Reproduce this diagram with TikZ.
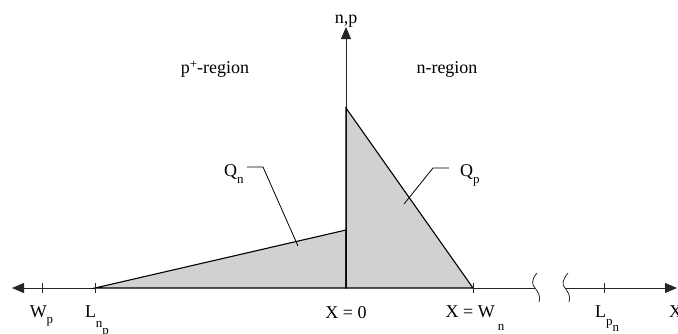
\documentclass[tikz,border=0pt]{standalone}
\usepackage{fontspec}
\setmainfont{Liberation Serif}
\usetikzlibrary{arrows.meta}
\newcommand\sbl[2]{\raisebox{-#1}{\fontsize{13}{14}\selectfont #2}}
\begin{document}
\begin{tikzpicture}[x=1pt,y=-1pt,
  axis/.style={line width=0.8pt,black!85},
  edge/.style={line width=1.1pt,black},
  shade/.style={fill=black!18},
  tickm/.style={line width=0.8pt,black!85},
  lbl/.style={font=\fontsize{18}{20}\selectfont,inner sep=0pt,anchor=base},
  tip/.style={-{Triangle[length=12pt,width=10pt]}},
  leader/.style={line width=0.8pt,black}]
\useasboundingbox (0,0) rectangle (678,333);
% coordinates
\coordinate (O) at (346,288);
\coordinate (top) at (346,27);
\coordinate (Lend) at (12,288);
\coordinate (Rend) at (677,288);
\coordinate (Wp) at (42,288);
\coordinate (Lnp) at (95,288);
\coordinate (Wn) at (473,288);
\coordinate (Lpn) at (604,288);
\coordinate (peak) at (346,108);
\coordinate (mid) at (346,230);
\coordinate (b1) at (535,288);
\coordinate (b2) at (565,288);
% shaded regions
\fill[shade] (Lnp) -- (mid) -- (O) -- cycle;
\fill[shade] (peak) -- (Wn) -- (O) -- cycle;
% axes
\draw[axis,tip] (O) -- (top);
\draw[axis,tip] (Lnp) -- (Lend);
\draw[axis] (Wn) -- (b1);
\draw[axis,tip] (b2) -- (Rend);
% breaks
\draw[axis] (537,273) .. controls (531,280) and (532,285) .. (535,288) .. controls (538,292) and (541,296) .. (539,302);
\draw[axis] (568,273) .. controls (562,280) and (562,285) .. (565,288) .. controls (568,292) and (571,296) .. (569,302);
% edges
\draw[edge] (Lnp) -- (mid) -- (O) -- cycle;
\draw[edge] (peak) -- (Wn) -- (O) -- cycle;
% ticks
\foreach \c in {Wp,Lnp,Wn,Lpn} \draw[tickm] ([yshift=-5pt]\c) -- ([yshift=5pt]\c);
% labels
\node[lbl] (np) at (346,23) {n,p};
\node[lbl] (preg) at (215,73) {p\raisebox{0.55ex}{\fontsize{13}{14}\selectfont +}-region};
\node[lbl] (nreg) at (447,73) {n-region};
\node[lbl] (lWp) at (41.5,317) {W\sbl{6pt}{p}};
\node[lbl] (lLnp) at (97,317) {L\sbl{10pt}{n\sbl{7pt}{p}}};
\node[lbl] (lX0) at (346,318) {X = 0};
\node[lbl] (lXWn) at (475,317) {X = W\hspace{3pt}\sbl{13pt}{n}};
\node[lbl] (lLpn) at (607,317) {L\sbl{8pt}{p\sbl{6pt}{n}}};
\node[lbl,anchor=base west] (lX) at (669,317) {X};
\node[lbl,anchor=base west] (Qn) at (224,176) {Q\sbl{7pt}{n}};
\node[lbl,anchor=base west] (Qp) at (460,176) {Q\sbl{7pt}{p}};
% leaders
\coordinate (qn1) at (247,167);
\coordinate (qn2) at (263,167);
\coordinate (qn3) at (298,246);
\coordinate (qp1) at (449,168);
\coordinate (qp2) at (433,168);
\coordinate (qp3) at (404,204);
\draw[leader] (qn1) -- (qn2) -- (qn3);
\draw[leader] (qp1) -- (qp2) -- (qp3);
\end{tikzpicture}
\end{document}
